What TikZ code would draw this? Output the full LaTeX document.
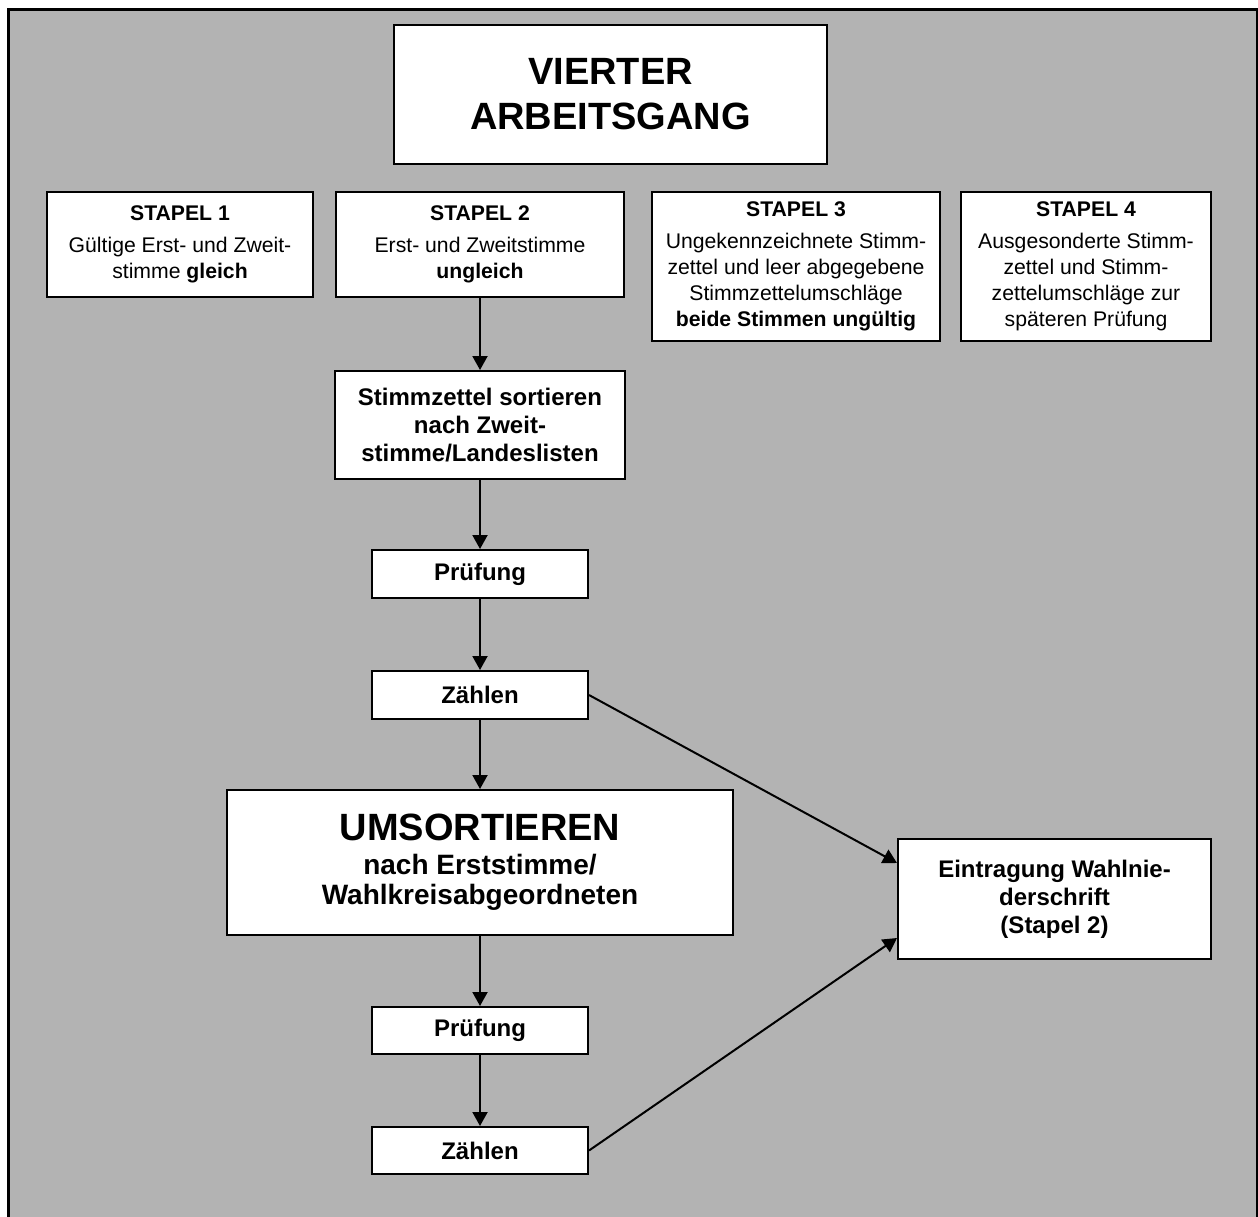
\documentclass[tikz,border=0pt]{standalone}
\usepackage{fontspec}
\setmainfont{Liberation Sans}
\usetikzlibrary{arrows.meta}
\definecolor{bggray}{RGB}{179,179,179}
\begin{document}
\begin{tikzpicture}[x=0.5pt,y=-0.5pt,>={Triangle[length=7pt,width=7.5pt]}]
  \tikzstyle{box}=[draw=black,line width=1pt,fill=white,align=center,inner sep=0pt]
  \tikzstyle{stapel}=[box,font=\fontsize{10.6}{13}\selectfont]
  \tikzstyle{work}=[box,font=\bfseries\fontsize{12}{14}\selectfont]
  \tikzstyle{edge}=[draw,line width=1pt,->]
  \useasboundingbox (0,0) rectangle (1258,1216);
  \begin{scope}
    \clip (0,0) rectangle (1258,1216);
    \draw[line width=1.5pt,fill=bggray] (8.5,9) rectangle (1257,1240);
  \end{scope}
  % heading and the four stacks
  \node [box,font=\bfseries\fontsize{19}{22.5}\selectfont,minimum width=216.5pt,minimum height=69.5pt] (title) at (610.5,94.5) {VIERTER\\ARBEITSGANG};
  \node [stapel,minimum width=133pt,minimum height=52.5pt] (st1) at (180,244.5) {\textbf{STAPEL 1}\\[3pt]Gültige Erst- und Zweit-\\stimme \textbf{gleich}};
  \node [stapel,minimum width=144pt,minimum height=52.5pt] (st2) at (480,244.5) {\textbf{STAPEL 2}\\[3pt]Erst- und Zweitstimme\\\textbf{ungleich}};
  \node [stapel,minimum width=144pt,minimum height=74.5pt] (st3) at (796,266.5) {\textbf{STAPEL 3}\\[3pt]Ungekennzeichnete Stimm-\\zettel und leer abgegebene\\Stimmzettelumschläge\\\textbf{beide Stimmen ungültig}};
  \node [stapel,minimum width=125pt,minimum height=74.5pt] (st4) at (1086,266.5) {\textbf{STAPEL 4}\\[3pt]Ausgesonderte Stimm-\\zettel und Stimm-\\zettelumschläge zur\\späteren Prüfung};
  % working steps for stack 2
  \node [work,minimum width=145pt,minimum height=54pt] (sort) at (480,425) {Stimmzettel sortieren\\nach Zweit-\\stimme/Landeslisten};
  \node [work,minimum width=108pt,minimum height=24pt] (pr1) at (480,574) {Prüfung};
  \node [work,minimum width=108pt,minimum height=24pt] (z1) at (480,695) {Zählen};
  \node [work,font=\bfseries\fontsize{14}{15}\selectfont,minimum width=253pt,minimum height=72.5pt] (ums) at (480,862.5) {{\fontsize{19}{19}\selectfont UMSORTIEREN}\\[2pt]nach Erststimme/\\Wahlkreisabgeordneten};
  \node [work,minimum width=108pt,minimum height=23.5pt] (pr2) at (480,1030.5) {Prüfung};
  \node [work,minimum width=108pt,minimum height=23.5pt] (z2) at (480,1150.5) {Zählen};
  \node [work,minimum width=156.5pt,minimum height=60pt] (ein) at (1054.5,899) {Eintragung Wahlnie-\\derschrift\\(Stapel 2)};
  % arrows
  \path (st2) edge[edge] (sort);
  \path (sort) edge[edge] (pr1);
  \path (pr1) edge[edge] (z1);
  \path (z1) edge[edge] (ums);
  \path (ums) edge[edge] (pr2);
  \path (pr2) edge[edge] (z2);
  \path (z1.east) edge[edge] ([yshift=18pt]ein.west);
  \path (z2.east) edge[edge] ([yshift=-19.5pt]ein.west);
\end{tikzpicture}
\end{document}
